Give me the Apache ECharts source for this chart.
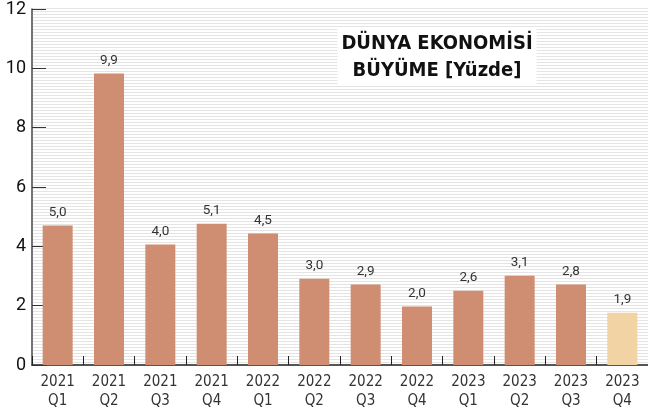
<!DOCTYPE html>
<html>
<head>
<meta charset="utf-8">
<script src="https://cdn.jsdelivr.net/npm/echarts@6/dist/echarts.min.js"></script>
<style>
  html, body { margin: 0; padding: 0; background: #fff; }
  #chart { width: 648px; height: 414px; }
</style>
</head>
<body>
<div id="chart"></div>
<script>
// kategoriler (yıl / çeyrek)
const years = ['2021', '2021', '2021', '2021', '2022', '2022', '2022', '2022', '2023', '2023', '2023', '2023'];
const quarters = ['Q1', 'Q2', 'Q3', 'Q4', 'Q1', 'Q2', 'Q3', 'Q4', 'Q1', 'Q2', 'Q3', 'Q4'];
// çubuk yükseklikleri
const barValues = [4.70, 9.83, 4.06, 4.76, 4.43, 2.91, 2.71, 1.97, 2.50, 3.01, 2.71, 1.76];
// çubuk üstündeki etiketler
const barLabels = ['5,0', '9,9', '4,0', '5,1', '4,5', '3,0', '2,9', '2,0', '2,6', '3,1', '2,8', '1,9'];
const yTicks = [0, 2, 4, 6, 8, 10, 12];

const narrow = '"Liberation Sans Narrow", "DejaVu Sans Condensed", sans-serif';

// çizgili arka plan deseni
const stripe = document.createElement('canvas');
stripe.width = 4;
stripe.height = 3;
const sctx = stripe.getContext('2d');
sctx.fillStyle = '#fff';
sctx.fillRect(0, 0, 4, 3);
sctx.fillStyle = '#e4e4e4';
sctx.fillRect(0, 0, 4, 1);

const chart = echarts.init(document.getElementById('chart'));

const option = {
  animation: false,
  backgroundColor: '#fff',
  grid: { left: 32, top: 8, width: 621, height: 357, containLabel: false },
  graphic: [{
    type: 'rect',
    left: 33, top: 8, z: -10,
    shape: { width: 620, height: 357 },
    style: { fill: { image: stripe, repeat: 'repeat' } },
    silent: true
  }],
  title: {
    text: 'DÜNYA EKONOMİSİ\nBÜYÜME [Yüzde]',
    left: 433,
    top: 28,
    textAlign: 'center',
    backgroundColor: '#fff',
    padding: [2, 4],
    textStyle: {
      fontFamily: narrow,
      fontWeight: 'bold',
      fontSize: 20,
      lineHeight: 27,
      color: '#111'
    }
  },
  xAxis: {
    type: 'category',
    data: years.map((y, i) => y + '\n' + quarters[i]),
    axisLine: { lineStyle: { color: '#555', width: 2 } },
    axisTick: { show: true, inside: true, length: 9, lineStyle: { color: '#222' } },
    axisLabel: {
      color: '#333',
      fontFamily: narrow,
      fontSize: 15,
      lineHeight: 19,
      margin: 8
    }
  },
  yAxis: {
    type: 'value',
    min: yTicks[0],
    max: yTicks[yTicks.length - 1],
    interval: 2,
    axisLine: { show: true, lineStyle: { color: '#444', width: 1.5 } },
    axisTick: { show: true, inside: true, length: 14, lineStyle: { color: '#333' } },
    axisLabel: { color: '#111', fontSize: 18, fontFamily: 'Roboto, sans-serif', margin: 6 },
    splitLine: { show: false }
  },
  series: [{
    type: 'bar',
    data: barValues.map((v, i) => ({
      value: v,
      itemStyle: { color: i === barValues.length - 1 ? '#f1d3a4' : '#cf8e72' }
    })),
    barWidth: 30,
    z: 1,
    label: {
      show: true,
      position: 'top',
      distance: 6,
      color: '#333',
      fontSize: 13.5,
      fontFamily: 'Roboto, sans-serif',
      formatter: p => barLabels[p.dataIndex]
    }
  }]
};

chart.setOption(option);
</script>
</body>
</html>
